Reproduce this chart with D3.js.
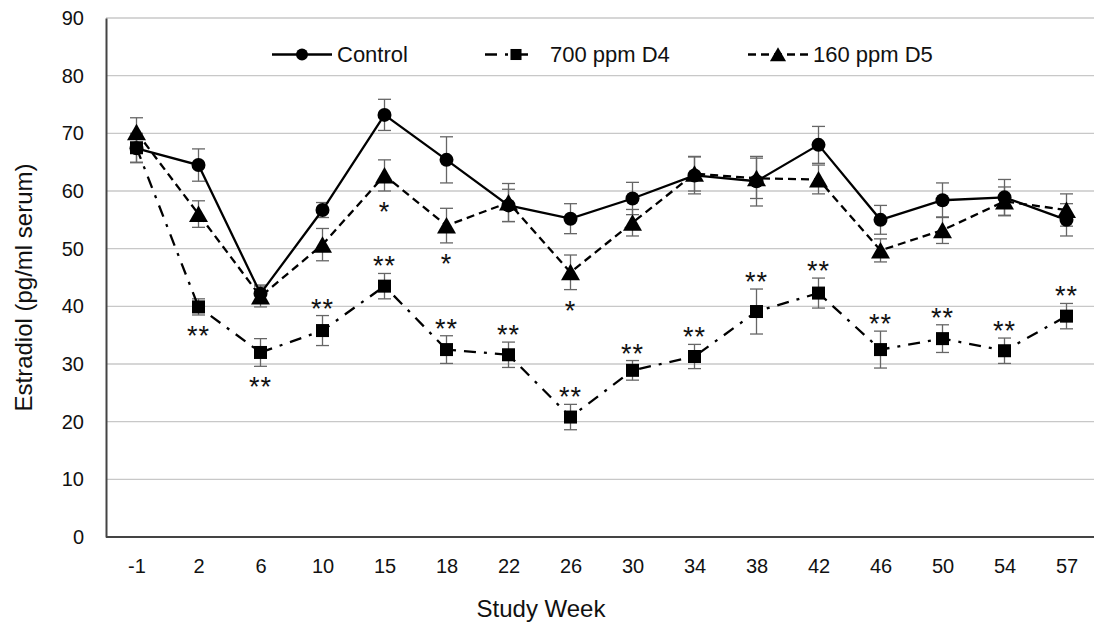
<!DOCTYPE html>
<html><head><meta charset="utf-8">
<script src="https://cdn.jsdelivr.net/npm/d3@7"></script>
<style>body{margin:0;background:#fff}svg{display:block;font-family:"Liberation Sans",Arial,sans-serif}</style>
</head><body><svg id="c" width="1094" height="624"></svg>
<script>
const weeks = ["-1","2","6","10","15","18","22","26","30","34","38","42","46","50","54","57"];
const yTicks = [0,10,20,30,40,50,60,70,80,90];
const controlMean = [67.4,64.5,42.2,56.7,73.2,65.4,57.5,55.2,58.7,62.7,61.7,68.0,55.0,58.4,58.9,55.0];
const controlErr  = [2.5,2.8,1.5,1.3,2.7,4.0,2.8,2.6,2.8,3.2,4.3,3.2,2.5,3.0,3.1,2.8];
const d4Mean = [67.5,39.9,32.0,35.8,43.5,32.5,31.6,20.8,28.9,31.3,39.1,42.3,32.5,34.4,32.3,38.3];
const d4Err  = [2.5,1.4,2.4,2.6,2.2,2.4,2.2,2.2,1.7,2.1,3.9,2.6,3.2,2.4,2.2,2.2];
const d5Mean = [70.2,56.0,41.7,50.7,62.7,54.0,58.0,45.9,54.5,63.0,62.2,62.0,49.7,53.2,58.2,56.7];
const d5Err  = [2.5,2.3,1.8,2.8,2.7,3.0,3.3,3.0,2.3,3.0,3.5,2.5,2.0,2.3,2.5,2.8];
const d4Sig    = ["","**","**","**","**","**","**","**","**","**","**","**","**","**","**","**"];
const d4SigPos = ["","below","below","above","above","above","above","above","above","above","above","above","above","above","above","above"];
const d5Sig    = ["","","","","*","*","","*","","","","","","","",""];
const d5SigPos = ["","","","","below","below","","below","","","","","","","",""];
const seriesNames = ["Control","700 ppm D4","160 ppm D5"];

const svg = d3.select("#c");
const pLeft = 106, pRight = 1094, pTop = 18, pBottom = 537;
const x = d3.scalePoint().domain(weeks).range([136.5, 1066.5]);
const y = d3.scaleLinear().domain([0, 90]).range([pBottom, pTop]);
const FONT = "Liberation Sans, Arial, sans-serif";

// gridlines
svg.append("g").selectAll("line").data(yTicks.filter(d => d > 0)).join("line")
  .attr("x1", pLeft).attr("x2", pRight).attr("y1", d => y(d)).attr("y2", d => y(d))
  .attr("stroke", "#c8c8c8").attr("stroke-width", 1.4);

// y axis
const ya = svg.append("g").attr("transform", `translate(${pLeft},0)`)
  .call(d3.axisLeft(y).tickValues(yTicks).tickSize(0).tickPadding(22));
ya.select(".domain").attr("stroke", "#444").attr("stroke-width", 2);
ya.selectAll("text").attr("font-size", 20).attr("fill", "#111").attr("font-family", FONT);

// x axis
const xa = svg.append("g").attr("transform", `translate(0,${pBottom})`)
  .call(d3.axisBottom(x).tickSize(0).tickPadding(22));
xa.select(".domain").attr("d", `M${pLeft},0H${pRight}`).attr("stroke", "#444").attr("stroke-width", 2);
xa.selectAll("text").attr("font-size", 20).attr("fill", "#111").attr("font-family", FONT);

// axis titles
svg.append("text").attr("x", 541).attr("y", 617).attr("text-anchor", "middle")
  .attr("font-size", 24).attr("fill", "#111").text("Study Week");
svg.append("text").attr("transform", "translate(32,287.5) rotate(-90)").attr("text-anchor", "middle")
  .attr("font-size", 24).attr("fill", "#111").text("Estradiol (pg/ml serum)");

const series = [
  {mean: controlMean, err: controlErr, dash: null, shape: "circle"},
  {mean: d4Mean, err: d4Err, dash: "12,8,3,8", shape: "square"},
  {mean: d5Mean, err: d5Err, dash: "8,5", shape: "triangle"}
];
const line = d3.line().x((d, i) => x(weeks[i])).y(d => y(d));

function drawMarker(g, shape, cx, cy, s) {
  s = s || 1;
  if (shape === "circle") g.append("circle").attr("cx", cx).attr("cy", cy).attr("r", 7 * s).attr("fill", "#000");
  else if (shape === "square") { const h = 6.5 * s; g.append("rect").attr("x", cx - h).attr("y", cy - h).attr("width", 2 * h).attr("height", 2 * h).attr("fill", "#000"); }
  else g.append("path").attr("d", `M${cx},${cy - 8.5 * s}L${cx + 9.5 * s},${cy + 8 * s}L${cx - 9.5 * s},${cy + 8 * s}Z`).attr("fill", "#000");
}

// error bars
series.forEach(s => {
  const g = svg.append("g").attr("stroke", "#666").attr("stroke-width", 1.3);
  s.mean.forEach((m, i) => {
    const cx = x(weeks[i]), hi = y(m + s.err[i]), lo = y(m - s.err[i]);
    g.append("line").attr("x1", cx).attr("x2", cx).attr("y1", hi).attr("y2", lo);
    g.append("line").attr("x1", cx - 6.5).attr("x2", cx + 6.5).attr("y1", hi).attr("y2", hi);
    g.append("line").attr("x1", cx - 6.5).attr("x2", cx + 6.5).attr("y1", lo).attr("y2", lo);
  });
});

// lines (draw order: D4, D5, Control on top)
[1, 2, 0].forEach(k => {
  const s = series[k];
  svg.append("path").datum(s.mean).attr("d", line).attr("fill", "none")
    .attr("stroke", "#000").attr("stroke-width", 2.3)
    .attr("stroke-dasharray", s.dash);
});
[1, 2, 0].forEach(k => {
  const s = series[k];
  const g = svg.append("g");
  s.mean.forEach((m, i) => drawMarker(g, s.shape, x(weeks[i]), y(m)));
});

// significance marks
function sig(marks, pos, mean, err) {
  marks.forEach((t, i) => {
    if (!t) return;
    const cx = x(weeks[i]);
    const yy = pos[i] === "above" ? y(mean[i] + err[i]) + 2 : y(mean[i] - err[i]) + 30;
    svg.append("text").attr("x", cx).attr("y", yy).attr("text-anchor", "middle")
      .attr("font-size", 27).attr("letter-spacing", 1).attr("fill", "#111").text(t);
  });
}
sig(d4Sig, d4SigPos, d4Mean, d4Err);
sig(d5Sig, d5SigPos, d5Mean, d5Err);

// legend
const leg = [
  {x1: 272, x2: 332, tx: 337, k: 0},
  {x1: 485, x2: 536, tx: 550, k: 1},
  {x1: 748, x2: 808, tx: 813, k: 2}
];
const ly = 54.5;
leg.forEach(l => {
  const s = series[l.k];
  svg.append("line").attr("x1", l.x1).attr("x2", l.x2).attr("y1", ly).attr("y2", ly)
    .attr("stroke", "#000").attr("stroke-width", 2.3).attr("stroke-dasharray", s.dash);
  drawMarker(svg, s.shape, l.k === 1 ? 516 : (l.x1 + l.x2) / 2, ly, 0.85);
  svg.append("text").attr("x", l.tx).attr("y", ly + 7.5).attr("font-size", 22).attr("fill", "#111")
    .text(seriesNames[l.k]);
});
</script></body></html>
